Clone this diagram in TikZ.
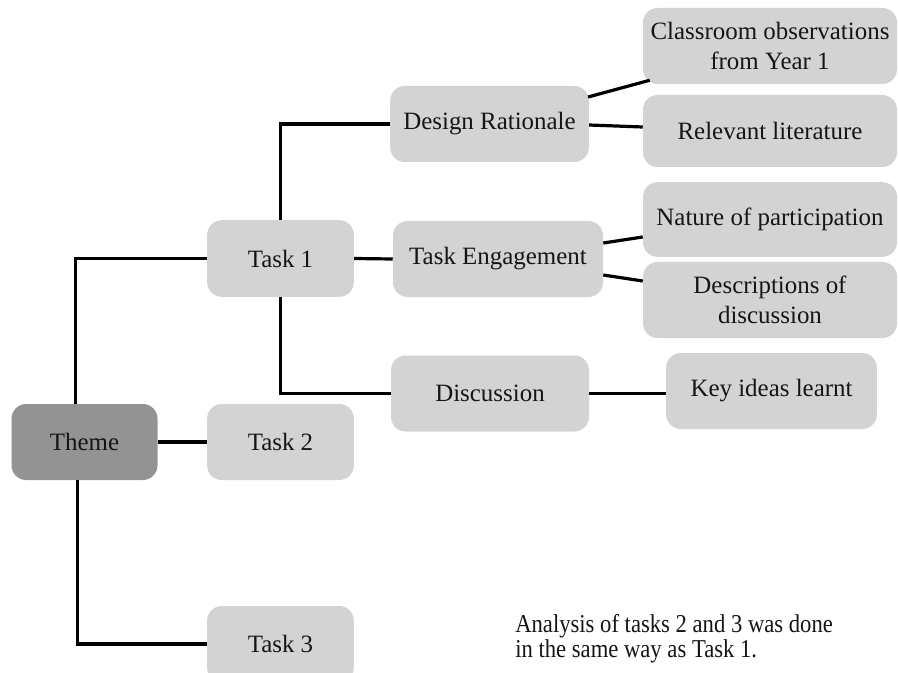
\documentclass[tikz,border=0pt]{standalone}
\usepackage{fontspec}
\setmainfont{Liberation Serif}
\usepackage{graphicx}
\definecolor{boxlight}{HTML}{D3D3D3}
\definecolor{boxdark}{HTML}{939393}
\definecolor{ink}{HTML}{151515}
\tikzset{
  box/.style={rounded corners=11pt, fill=boxlight, draw=none, text=ink,
    inner sep=0pt, align=center, font=\fontsize{18.7}{22.5}\selectfont},
  rootbox/.style={box, fill=boxdark},
  link/.style={line width=2.4pt, draw=black},
}
\begin{document}
\begin{tikzpicture}[x=0.75pt, y=-0.75pt]
  \clip (0,0) rectangle (898,673);
  \fill[white] (0,0) rectangle (898,673);

  % root and first level
  \node[rootbox, minimum width=109.5pt, minimum height=57pt] (theme) at (84.5,442) {Theme};
  \node[box, minimum width=110pt, minimum height=57.5pt] (task1) at (280.5,258.5) {Task 1};
  \node[box, minimum width=110pt, minimum height=57pt] (task2) at (280.5,442) {Task 2};
  \node[box, minimum width=110pt, minimum height=57pt] (task3) at (280.5,644) {Task 3};

  % second level
  \node[box, minimum width=149pt, minimum height=57pt] (dr) at (489.5,124) {Design Rationale};
  \node[box, minimum width=157.5pt, minimum height=57pt] (te) at (498,259) {Task Engagement};
  \node[box, minimum width=148.5pt, minimum height=57pt] (disc) at (490,393.5) {Discussion};

  % third level
  \node[box, minimum width=190.5pt, minimum height=57pt] (cls) at (770,46) {Classroom observations\\from Year 1};
  \node[box, minimum width=190.5pt, minimum height=54pt] (rel) at (770,131) {Relevant literature};
  \node[box, minimum width=190.5pt, minimum height=56pt] (nat) at (770,219.5) {Nature of participation};
  \node[box, minimum width=190.5pt, minimum height=57pt] (desc) at (770,300) {Descriptions of\\discussion};
  \node[box, minimum width=158pt, minimum height=57pt] (key) at (771.5,391) {Key ideas learnt};

  % connectors from the root
  \draw[link] ([shift={(-9,0)}]theme.north) |- (task1.west);
  \draw[link] (theme.east) -- (task2.west);
  \draw[link] ([shift={(-7,0)}]theme.south) |- (task3.west);

  % connectors from Task 1
  \draw[link] (task1.north) |- (dr.west);
  \draw[link] (task1.east) -- (te.west);
  \draw[link] (task1.south) |- (disc.west);

  % connectors to the leaves
  \draw[link] ([shift={(-1,-27)}]dr.east) -- ([shift={(7,-4)}]cls.south west);
  \draw[link] ([shift={(0,1)}]dr.east) -- ([shift={(0,-4)}]rel.west);
  \draw[link] ([shift={(0,-16)}]te.east) -- ([shift={(0,17.5)}]nat.west);
  \draw[link] ([shift={(0,16)}]te.east) -- ([shift={(0,-19)}]desc.west);
  \draw[link] (disc.east) -- (disc.east -| key.west);

  % note
  \node[anchor=base west, inner sep=0pt, text=ink] (note) at (515,632)
    {\scalebox{0.88}[1]{\fontsize{19.3}{18}\selectfont\begin{tabular}[t]{@{}l@{}}Analysis of tasks 2 and 3 was done\\in the same way as Task 1.\end{tabular}}};
\end{tikzpicture}
\end{document}
